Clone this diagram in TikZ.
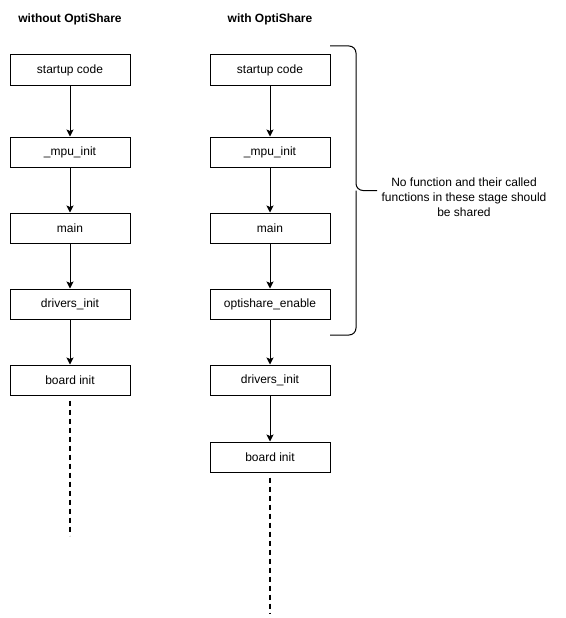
\documentclass[tikz,border=0pt]{standalone}
\usepackage{fontspec}
\setmainfont{Liberation Sans}
\usetikzlibrary{arrows.meta,positioning}
\tikzstyle{stagebox} = [draw, line width=1pt, text centered, minimum width=120pt, minimum height=30pt, inner sep=0pt, font=\fontsize{12}{14}\selectfont]
\tikzstyle{title} = [text centered, font=\fontsize{12}{14}\selectfont\bfseries]
\tikzstyle{note} = [text centered, align=center, font=\fontsize{12}{15}\selectfont]
\tikzstyle{arrow} = [draw, line width=1pt, -{Stealth[length=7pt,width=7pt,inset=1.5pt]}]
\tikzstyle{dashline} = [draw, line width=2pt, dash pattern=on 5pt off 4pt]
\tikzstyle{brace} = [draw, line width=1pt, rounded corners=7pt]
\newcommand{\stagebox}[2]{node (s#1) [stagebox] {#2}}

\begin{document}
\begin{tikzpicture}[x=1pt,y=-1pt]
\useasboundingbox (0,0) rectangle (565,618);
% without OptiShare
\path (70,19) node (tl) [title] {without OptiShare};
\path (70,70) \stagebox{l1}{startup code};
\path (sl1)+(0,82) \stagebox{l2}{\_mpu\_init};
\path (sl2)+(0,76) \stagebox{l3}{main};
\path (sl3)+(0,76) \stagebox{l4}{drivers\_init};
\path (sl4)+(0,76) \stagebox{l5}{board init};
\path [arrow] (sl1.south) -- (sl2.north);
\path [arrow] (sl2.south) -- (sl3.north);
\path [arrow] (sl3.south) -- (sl4.north);
\path [arrow] (sl4.south) -- (sl5.north);
\path (sl5.south)+(0,5) coordinate (bl);
\path (sl5.south)+(0,140) coordinate (el);
\path [dashline] (bl) -- (el);

% with OptiShare
\path (270,19) node (tr) [title] {with OptiShare};
\path (270,70) \stagebox{r1}{startup code};
\path (sr1)+(0,82) \stagebox{r2}{\_mpu\_init};
\path (sr2)+(0,76) \stagebox{r3}{main};
\path (sr3)+(0,76) \stagebox{r4}{optishare\_enable};
\path (sr4)+(0,76) \stagebox{r5}{drivers\_init};
\path (sr5)+(0,77) \stagebox{r6}{board init};
\path [arrow] (sr1.south) -- (sr2.north);
\path [arrow] (sr2.south) -- (sr3.north);
\path [arrow] (sr3.south) -- (sr4.north);
\path [arrow] (sr4.south) -- (sr5.north);
\path [arrow] (sr5.south) -- (sr6.north);
\path (sr6.south)+(0,5) coordinate (br);
\path (sr6.south)+(0,141) coordinate (er);
\path [dashline] (br) -- (er);

% brace and note
\coordinate (bt) at (330,46);
\coordinate (bb) at (330,335);
\coordinate (bm) at (377,190.5);
\path [brace] (bt) -| (356,190.5) -- (bm);
\path [brace] (bb) -| (356,190.5);
\path (bm)+(87,6.5) node (n1) [note] {No function and their called\\functions in these stage should\\be shared};
\end{tikzpicture}
\end{document}
